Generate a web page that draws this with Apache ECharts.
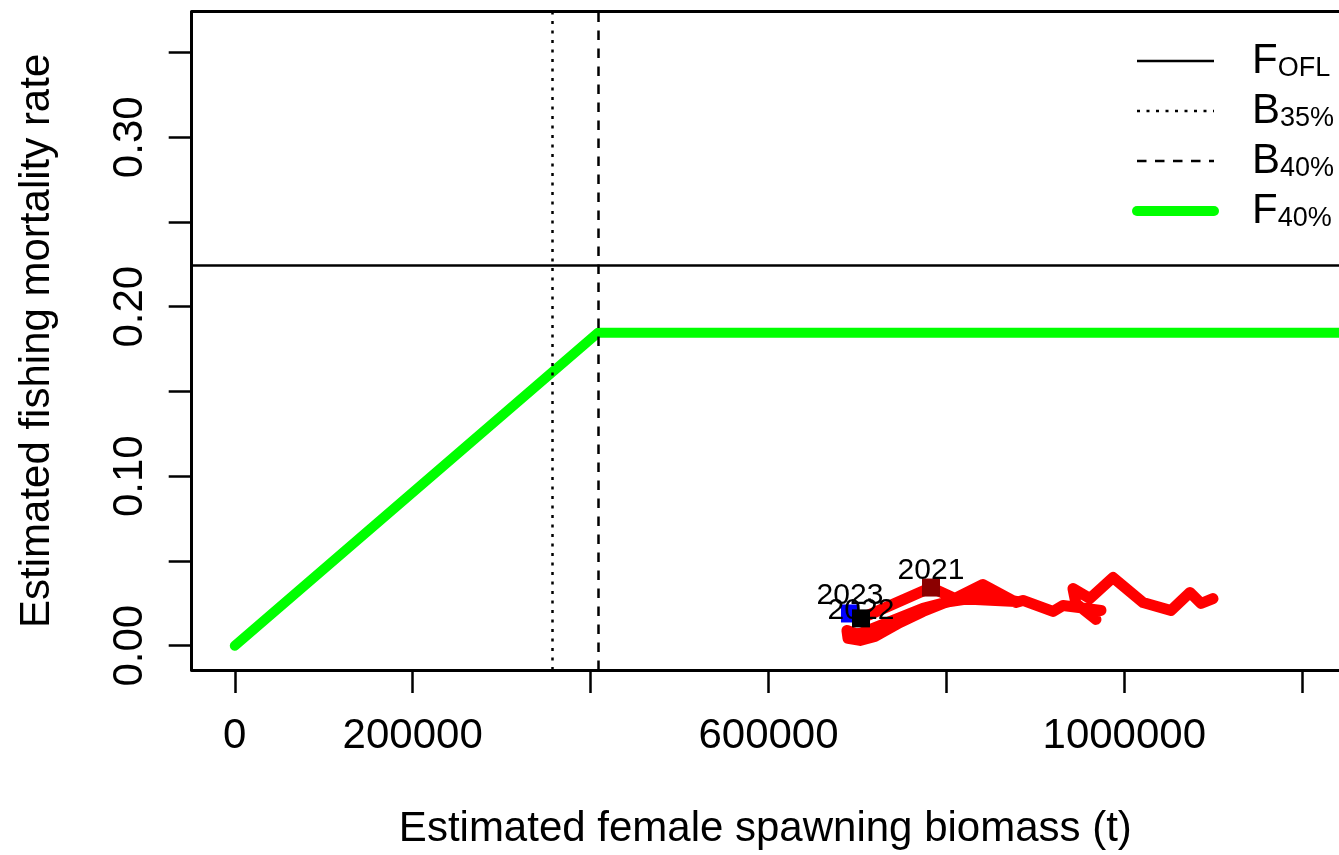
<!DOCTYPE html>
<html><head><meta charset="utf-8">
<script src="https://cdn.jsdelivr.net/npm/echarts@6/dist/echarts.min.js"></script>
<style>html,body{margin:0;padding:0;background:#fff}#c{width:1339px;height:855px}</style>
</head><body><div id="c"></div>
<script>
// ---- data ----
const xTicks = [0, 200000, 400000, 600000, 800000, 1000000, 1200000];
const xLabels = [0, 200000, 600000, 1000000];
const yTicks = [0, 0.05, 0.10, 0.15, 0.20, 0.25, 0.30, 0.35];
const yLabels = [0, 0.10, 0.20, 0.30];
const F_OFL = 0.2246;
const B35 = 357300;
const B40 = 408300;
const F40 = 0.1847;
// estimated female spawning biomass (t) and fishing mortality, in time order
const sb = [1099700, 1086200, 1073800, 1052500, 1021000, 987300, 961400, 942300, 945700, 968200,
            958000, 973800, 931100, 919800, 886100, 878200, 841100, 807400, 773700, 747800,
            719700, 702900, 689400, 688200, 700600, 725300, 773700, 804000, 849000, 878200,
            809600, 782700, 704000, 691600];
const fm = [0.0278, 0.0249, 0.0314, 0.0208, 0.0255, 0.0402, 0.0278, 0.0337, 0.0249, 0.0155,
            0.0202, 0.0208, 0.0237, 0.0202, 0.0267, 0.0255, 0.0361, 0.0273, 0.0202, 0.0137,
            0.0055, 0.0031, 0.0043, 0.0090, 0.0067, 0.0119, 0.0220, 0.0261, 0.0296, 0.0261,
            0.0278, 0.0343, 0.0161, 0.0190];
const markedYears = ['2021', '2022', '2023'];
const legendNames = ['F_OFL', 'B35', 'B40', 'F40'];
const legendMain = ['F', 'B', 'B', 'F'];
const legendSub = ['OFL', '35%', '40%', '40%'];

// ---- layout / style ----
const FONT = 'Liberation Sans, Arial, sans-serif';
const X_MIN = -48450, X_MAX = 1241400, Y_MIN = -0.01436, Y_MAX = 0.3741;
const markColors = {'2021': '#8B0000', '2022': '#000000', '2023': '#0000FF'};
const labelDy = {'2021': -17, '2022': -8, '2023': -18};
const drawOrder = ['2021', '2023', '2022'];

const traj = sb.map((v, i) => [v, fm[i]]);
const n = sb.length;
const markPts = drawOrder.map(y => {
  const k = n - markedYears.length + markedYears.indexOf(y);
  return {
    value: [sb[k], fm[k]], name: y,
    itemStyle: {color: markColors[y], opacity: 1},
    label: {show: true, formatter: y, position: 'inside', offset: [0, labelDy[y]],
            color: '#000', opacity: 1, fontSize: 30, fontFamily: FONT}
  };
});
const legendText = {};
legendNames.forEach((nm, i) => { legendText[nm] = '{a|' + legendMain[i] + '}{b|' + legendSub[i] + '}'; });

const axisLineStyle = {color: '#000', width: 3};
const mlBase = {silent: true, symbol: 'none', precision: 6, label: {show: false}};
const chart = echarts.init(document.getElementById('c'), null, {renderer: 'canvas'});
chart.setOption({
  animation: false,
  backgroundColor: '#fff',
  grid: {left: 191.7, top: 11.7, right: 0, bottom: 183.3, show: false},
  legend: {
    orient: 'vertical', left: 1132, top: 40, padding: 0, itemWidth: 77, itemHeight: 42, itemGap: 8,
    selectedMode: false, data: legendNames,
    formatter: nm => legendText[nm],
    lineStyle: {width: 'inherit'},
    itemStyle: {color: 'rgba(0,0,0,0)', borderColor: 'rgba(0,0,0,0)', borderWidth: 0, opacity: 0},
    textStyle: {
      color: '#000', fontFamily: FONT,
      rich: {
        a: {fontSize: 42, lineHeight: 42, fontFamily: FONT, color: '#000', padding: [0, 0, 0, 33], verticalAlign: 'bottom'},
        b: {fontSize: 27, lineHeight: 21.5, fontFamily: FONT, color: '#000', verticalAlign: 'bottom'}
      }
    }
  },
  xAxis: [{
    type: 'value', min: X_MIN, max: X_MAX, position: 'bottom',
    name: 'Estimated female spawning biomass (t)', nameLocation: 'middle', nameGap: 138,
    nameTextStyle: {fontSize: 42, fontFamily: FONT, color: '#000'},
    axisLine: {show: true, onZero: false, lineStyle: axisLineStyle},
    splitLine: {show: false},
    axisTick: {show: true, length: 23, customValues: xTicks, lineStyle: {color: '#000', width: 2.5}},
    axisLabel: {customValues: xLabels, margin: 45, fontSize: 42, fontFamily: FONT, color: '#000',
                formatter: v => String(Math.round(v))}
  }, {
    type: 'value', min: X_MIN, max: X_MAX, position: 'top',
    axisLine: {show: true, onZero: false, lineStyle: axisLineStyle},
    axisTick: {show: false}, axisLabel: {show: false}, splitLine: {show: false}
  }],
  yAxis: {
    type: 'value', min: Y_MIN, max: Y_MAX,
    name: 'Estimated fishing mortality rate', nameLocation: 'middle', nameGap: 133, nameRotate: 90,
    nameTextStyle: {fontSize: 42, fontFamily: FONT, color: '#000'},
    axisLine: {show: true, onZero: false, lineStyle: axisLineStyle},
    splitLine: {show: false},
    axisTick: {show: true, length: 23, customValues: yTicks, lineStyle: {color: '#000', width: 2.5}},
    axisLabel: {customValues: yLabels, rotate: 90, margin: 40, fontSize: 42, fontFamily: FONT, color: '#000',
                formatter: v => v.toFixed(2)}
  },
  series: [
    {name: 'F_OFL', type: 'line', data: [], symbol: 'none',
     lineStyle: {color: '#000', width: 2.5, type: 'solid'},
     markLine: Object.assign({}, mlBase, {lineStyle: {color: '#000', width: 2.5, type: 'solid'},
                data: [{yAxis: F_OFL}]})},
    {name: 'B35', type: 'line', data: [], symbol: 'none',
     lineStyle: {color: '#000', width: 2.5, type: [3, 6.5]},
     markLine: Object.assign({}, mlBase, {lineStyle: {color: '#000', width: 2.5, type: [3, 6.5]},
                data: [{xAxis: B35}]})},
    {name: 'B40', type: 'line', data: [], symbol: 'none',
     lineStyle: {color: '#000', width: 2.5, type: [9.5, 8.5]},
     markLine: Object.assign({}, mlBase, {lineStyle: {color: '#000', width: 2.5, type: [9.5, 8.5]},
                data: [{xAxis: B40}]})},
    {name: 'F40', type: 'line', symbol: 'none', clip: true,
     data: [[0, 0], [B40, F40], [X_MAX, F40]],
     lineStyle: {color: '#00FF00', width: 10, cap: 'round', join: 'round'}},
    {name: 'traj', type: 'line', symbol: 'none', data: traj, clip: true,
     lineStyle: {color: '#FF0000', width: 11, cap: 'round', join: 'round'}},
    {name: 'years', type: 'scatter', symbol: 'rect', symbolSize: 18, data: markPts, z: 5,
     itemStyle: {opacity: 1}}
  ]
});
</script>
</body></html>
